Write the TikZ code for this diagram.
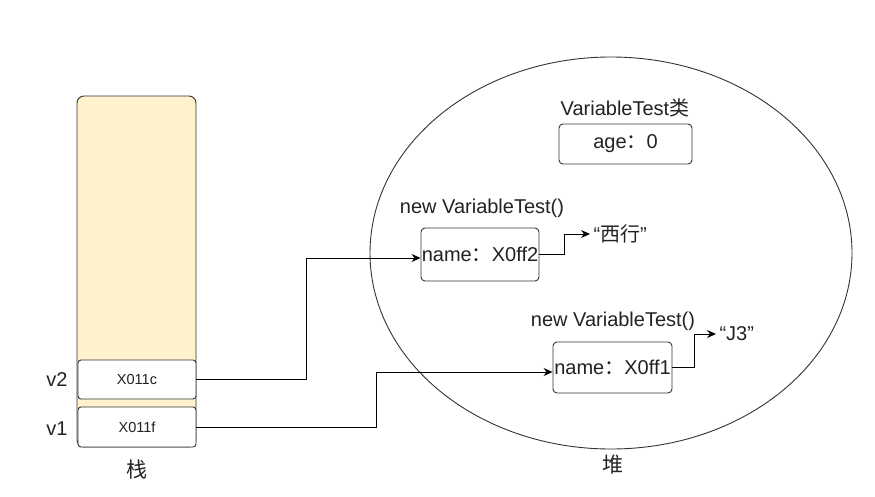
\documentclass[tikz,border=0pt]{standalone}
\usepackage{fontspec}
\setmainfont{Liberation Sans}
\newfontfamily\cjk{Noto Sans CJK SC}
\usetikzlibrary{shapes.geometric,arrows.meta}
\definecolor{stackfill}{HTML}{FFF2CC}
\definecolor{edge}{HTML}{333333}
\definecolor{txt}{HTML}{222222}
\tikzset{
  big/.style={font=\fontsize{20}{23}\selectfont, text=txt},
  small/.style={font=\fontsize{14.5}{16}\selectfont, text=txt},
  cjklbl/.style={font=\fontsize{21}{24}\selectfont\cjk, text=txt},
  cell/.style={draw=edge, line width=0.9pt, fill=white, rounded corners=3pt, inner sep=0pt, minimum width=118pt},
  obj/.style={draw=edge, line width=0.9pt, fill=white, rounded corners=4pt, inner sep=0pt, big},
  arr/.style={draw=black, line width=0.9pt, -{Stealth[length=9pt,width=8pt]}},
}
\begin{document}
\begin{tikzpicture}[x=1pt,y=-1pt]
\useasboundingbox (0,0) rectangle (875,496);
% stack
\node[draw=edge, line width=0.9pt, fill=stackfill, rounded corners=7pt, minimum width=119pt, minimum height=351pt, inner sep=0pt] (stack) at (136.5,271.5) {};
\node[cell, minimum height=39pt, small] (v2box) at (137,379.5) {X011c};
\node[cell, minimum height=40pt, small] (v1box) at (137,427) {X011f};
\node[big] (v2) at (57,380) {v2};
\node[big] (v1) at (57,429) {v1};
\node[cjklbl] (zhan) at (137,470) {栈};
% heap
\node[draw=edge, line width=0.9pt, ellipse, minimum width=482pt, minimum height=392pt, inner sep=0pt] (heap) at (611,253) {};
\node[cjklbl] (heaplbl) at (613,465) {堆};
% class
\node[big] (cls) at (625,108) {VariableTest{\cjk 类}};
\node[obj, minimum width=133pt, minimum height=40pt] (age) at (625.5,144) {age{\cjk ：}0};
% object 1
\node[big] (new1) at (482,208) {new VariableTest()};
\node[obj, minimum width=118pt, minimum height=53pt] (box1) at (480,254.5) {name{\cjk ：}X0ff2};
\node[big, anchor=west] (q1) at (590,234) {“{\cjk 西行}”};
% object 2
\node[big] (new2) at (613,321) {new VariableTest()};
\node[obj, minimum width=119pt, minimum height=51pt] (box2) at (612.5,367.5) {name{\cjk ：}X0ff1};
\node[big, anchor=west] (q2) at (716,334) {“J3”};
% connectors
\draw[arr] (box1.east) -- ++(25,0) |- (q1.west);
\draw[arr] (box2.east) -- ++(22,0) |- (q2.west);
\draw[arr] (v2box.east) -- (306,379.5) |- ([yshift=-3.5pt]box1.west);
\draw[arr] (v1box.east) -- (376,427) |- ([yshift=-4.5pt]box2.west);
\end{tikzpicture}
\end{document}
